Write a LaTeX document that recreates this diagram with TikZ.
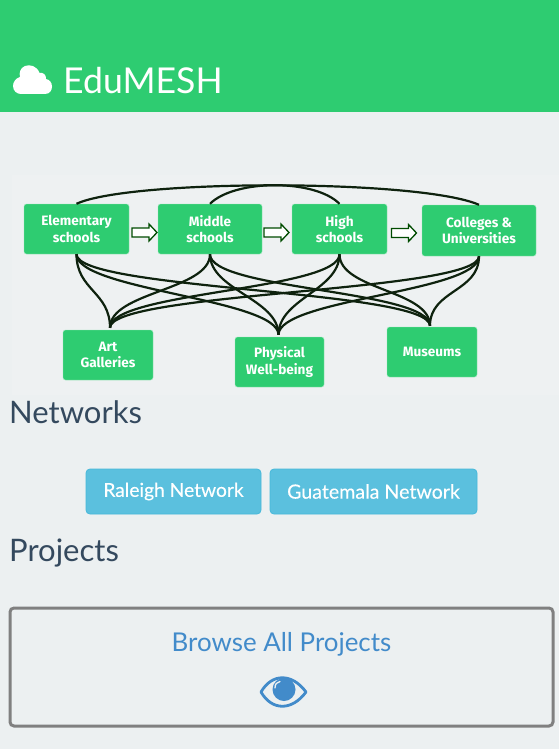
\documentclass[tikz,border=0pt]{standalone}
\usepackage{fontspec}
\setmainfont{Lato}
\newfontfamily\boxfont{Fira Sans}
\newfontfamily\btnfont{Lato}[FakeBold=0.25]
\usetikzlibrary{calc}
\definecolor{brandgreen}{HTML}{2ECC71}
\definecolor{pagebg}{HTML}{ECF0F1}
\definecolor{imgbg}{HTML}{EEF1F2}
\definecolor{headtext}{HTML}{34495E}
\definecolor{btnfill}{HTML}{5BC0DE}
\definecolor{btnline}{HTML}{46B8DA}
\definecolor{linkblue}{HTML}{428BCA}
\definecolor{meshline}{HTML}{0E220E}
\tikzset{
  x=1pt,y=-1pt,
  mbox/.style={rectangle,rounded corners=2.5pt,fill=brandgreen,draw=white!50!brandgreen,line width=.4pt,text=white,align=center,
    font=\boxfont\bfseries\fontsize{13.6}{16.5}\selectfont,inner sep=0pt},
  mesh/.style={draw=meshline,line width=2.2pt},
  flow/.style={draw=black!70!green,fill=white,line width=1.3pt,line join=miter},
  heading/.style={anchor=base west,inner sep=0pt,text=headtext,font=\fontsize{31}{36}\selectfont},
  btn/.style={rectangle,rounded corners=4pt,fill=btnfill,draw=btnline,line width=.8pt,text=white,inner sep=0pt},
}
\newcommand{\flowarrow}[1]{%
  \draw[flow] ($(#1)+(0,-4.5)$) -- ++(17,0) -- ++(0,-4) -- ++(8,8.5) -- ++(-8,8.5) -- ++(0,-4) -- ++(-17,0) -- cycle;}
\begin{document}
\begin{tikzpicture}
\useasboundingbox (0,0) rectangle (559,749);
\fill[pagebg] (0,0) rectangle (559,749);
\fill[brandgreen] (0,0) rectangle (559,112);
\fill[imgbg] (12,175) rectangle (559,395);
% cloud icon
\fill[white] (21,94) -- (45,94)
  .. controls (50,94) and (52,90) .. (52,86.5)
  .. controls (52,82) and (49,79.5) .. (46,79)
  .. controls (46.5,75) and (43,72) .. (39.5,73)
  .. controls (37,66) and (30,64) .. (25,66)
  .. controls (20,68) and (19,73) .. (20,77)
  .. controls (16,78) and (13,82) .. (13,86)
  .. controls (13,91) and (17,94) .. (21,94) -- cycle;
\node[anchor=base west,inner sep=0pt,text=white,font=\fontsize{35.6}{40}\selectfont] (title) at (63,94) {EduMESH};
% boxes
\node[mbox,minimum width=105,minimum height=50] (es) at (76.5,229) {Elementary\\schools};
\node[mbox,minimum width=104,minimum height=50] (ms) at (210,229) {Middle\\schools};
\node[mbox,minimum width=95,minimum height=50] (hs) at (339.5,229) {High\\schools};
\node[mbox,minimum width=114,minimum height=51] (cu) at (479,230.5) {Colleges \&\\Universities};
\node[mbox,minimum width=90,minimum height=50] (ag) at (108,355) {Art\\Galleries};
\node[mbox,minimum width=89,minimum height=50] (pw) at (279.5,362) {Physical\\Well-being};
\node[mbox,minimum width=90,minimum height=50] (mu) at (432,352) {Museums};
% arcs over the top
\draw[mesh] (es.north) .. controls (130,179) and (420,179) .. (cu.north);
\draw[mesh] (ms.north) .. controls (235,179) and (315,179) .. (hs.north);
% mesh
\foreach \a in {es,ms,hs,cu}{
  \foreach \b/\dx/\dy in {ag/2/-2,pw/-1/-2,mu/-2/-1}{
    \draw[mesh] (\a.south) .. controls +(0,36) and +(0,-36) .. ($(\b.north)+(\dx,\dy)$);
  }
}
% flow arrows
\coordinate (f1) at (132,232.5);
\coordinate (f2) at (264,232.5);
\coordinate (f3) at (391.5,233);
\flowarrow{f1}
\flowarrow{f2}
\flowarrow{f3}
% headings
\node[heading] (nets) at (9,423) {Networks};
\node[heading] (projs) at (9,561) {Projects};
\node[btn,minimum width=175,minimum height=45,font=\btnfont\fontsize{19.2}{22}\selectfont] (ral) at (173.5,491.5) {Raleigh Network};
\node[btn,minimum width=207,minimum height=45,font=\btnfont\fontsize{19.6}{22}\selectfont] (gua) at (373.5,491.5) {Guatemala Network};
% browse box
\draw[draw=black!50,line width=3pt,rounded corners=4pt] (10,608) rectangle (553,726);
\node[anchor=base,inner sep=0pt,text=linkblue,font=\fontsize{25.9}{28}\selectfont] (browse) at (281.5,651) {Browse All Projects};
% eye
\draw[linkblue,line width=2.8pt,line join=round] (261,692) .. controls (272,673) and (292,673) .. (306,692) .. controls (292,711) and (272,711) .. (261,692) -- cycle;
\fill[linkblue] (284,689.5) circle (11.5);
\draw[pagebg,line width=1.3pt,line cap=round] (275,688) .. controls (275,684) and (277,682) .. (280,681.5);
\end{tikzpicture}
\end{document}
